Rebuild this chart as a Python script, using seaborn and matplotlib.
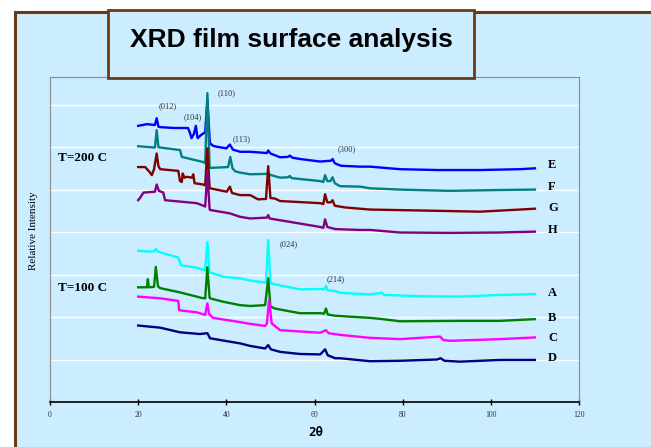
import matplotlib
matplotlib.use("Agg")
import matplotlib.pyplot as plt
from matplotlib.patches import Rectangle
import seaborn as sns
import pandas as pd

# ---------------- data ----------------
E_x = [20.0, 22.0, 23.8, 24.2, 24.6, 25.0, 28.0, 31.3, 31.7, 32.1, 32.6, 33.1, 33.4, 33.5, 34.2, 35.2, 35.7, 36.2, 36.3, 37.0, 37.8, 40.0, 40.8, 41.5, 43.1, 45.4, 49.2, 49.5, 50.0, 52.2, 54.0, 54.4, 55.0, 56.7, 61.3, 63.8, 64.1, 64.6, 66.0, 70.3, 72.6, 79.4, 88.0, 97.5, 102.1, 106.6, 110.0]
E_y = [650, 654, 652, 668, 648, 647, 645, 645, 635, 621, 630, 650, 625, 621, 628, 635, 712, 620, 609, 603, 601, 597, 606, 594, 589, 589, 586, 592, 585, 576, 577, 580, 575, 572, 566, 568, 572, 562, 556, 554, 554, 548, 546, 546, 547, 548, 550]

F_x = [20.0, 23.8, 24.2, 24.6, 25.0, 29.5, 29.9, 34.7, 35.2, 35.7, 36.2, 36.3, 40.4, 40.9, 41.4, 42.0, 43.1, 45.4, 49.2, 49.5, 49.8, 52.2, 54.0, 54.4, 54.8, 61.3, 62.0, 62.4, 62.9, 63.6, 64.1, 64.6, 65.8, 70.3, 72.6, 79.4, 90.7, 102.1, 110.0]
F_y = [602, 599, 640, 600, 599, 593, 577, 565, 562, 727, 555, 551, 553, 577, 550, 543, 540, 536, 537, 541, 535, 528, 529, 532, 527, 520, 518, 534, 520, 520, 529, 515, 508, 507, 503, 500, 497, 499, 500]

G_x = [20.0, 21.6, 22.7, 23.1, 23.6, 24.2, 24.6, 25.0, 29.1, 29.5, 29.9, 30.1, 30.5, 31.0, 32.2, 32.5, 32.8, 34.7, 35.2, 35.7, 36.2, 36.3, 40.1, 40.8, 41.3, 43.1, 45.4, 47.2, 49.0, 49.5, 50.0, 51.0, 52.2, 61.3, 62.0, 62.4, 62.9, 63.7, 64.1, 64.6, 66.9, 70.3, 72.6, 88.0, 97.5, 106.6, 110.0]
G_y = [553, 553, 540, 534, 548, 585, 555, 548, 544, 520, 518, 538, 528, 530, 528, 536, 515, 512, 510, 597, 505, 503, 495, 507, 492, 487, 487, 477, 478, 555, 480, 479, 473, 468, 466, 489, 470, 470, 475, 462, 458, 455, 453, 450, 448, 453, 455]

H_x = [20.0, 20.4, 21.2, 23.8, 24.2, 24.7, 25.7, 26.1, 33.3, 34.8, 35.2, 35.7, 36.2, 36.3, 40.8, 43.1, 45.4, 49.2, 49.5, 49.8, 56.7, 61.3, 62.0, 62.4, 62.9, 64.7, 70.3, 72.6, 79.4, 90.7, 102.1, 110.0]
H_y = [475, 480, 493, 495, 512, 497, 493, 475, 468, 462, 460, 540, 455, 452, 444, 436, 432, 434, 440, 432, 420, 412, 410, 430, 412, 407, 405, 405, 399, 398, 399, 401]

A_x = [20.0, 22.7, 23.6, 24.0, 24.5, 25.7, 29.1, 29.7, 33.3, 34.8, 35.2, 35.7, 36.2, 36.3, 39.3, 43.1, 45.4, 48.8, 49.0, 49.5, 50.0, 51.0, 56.7, 61.3, 62.2, 62.6, 63.0, 64.7, 65.8, 72.6, 75.3, 75.8, 83.9, 93.0, 102.1, 110.0]
A_y = [356, 354, 355, 360, 354, 350, 340, 322, 316, 311, 310, 376, 306, 305, 295, 291, 286, 281, 281, 381, 280, 277, 265, 266, 265, 273, 263, 261, 257, 253, 257, 252, 249, 248, 252, 254]

B_x = [20.0, 22.0, 22.2, 22.4, 23.6, 24.0, 24.5, 25.0, 29.5, 34.4, 35.2, 35.7, 36.2, 36.3, 39.3, 43.1, 45.4, 48.8, 49.5, 50.0, 51.0, 56.7, 61.3, 62.2, 62.6, 63.0, 64.7, 72.6, 75.5, 79.4, 93.0, 102.1, 110.0]
B_y = [270, 270, 289, 270, 271, 318, 272, 268, 258, 245, 244, 317, 246, 244, 236, 228, 226, 228, 291, 225, 220, 209, 209, 208, 220, 206, 203, 198, 195, 190, 191, 191, 195]

C_x = [20.0, 25.0, 29.1, 29.3, 33.3, 35.2, 35.7, 36.1, 37.0, 43.1, 45.4, 48.8, 49.2, 49.7, 50.3, 52.2, 61.3, 62.6, 63.2, 65.8, 72.6, 79.4, 88.5, 89.2, 90.7, 102.1, 110.0]
C_y = [248, 244, 238, 216, 211, 205, 232, 207, 198, 188, 184, 179, 185, 240, 185, 169, 163, 169, 162, 158, 151, 148, 154, 146, 144, 148, 152]

D_x = [20.0, 25.0, 29.5, 34.0, 35.7, 36.3, 40.8, 43.1, 45.4, 48.8, 49.5, 50.1, 52.2, 56.7, 61.3, 62.4, 63.0, 64.7, 65.8, 72.6, 79.4, 87.8, 88.6, 89.5, 93.0, 102.1, 110.0]
D_y = [180, 175, 164, 160, 162, 150, 142, 138, 132, 126, 134, 124, 118, 113, 112, 124, 110, 103, 103, 96, 97, 100, 103, 97, 95, 99, 99]

series_names = ["E", "F", "G", "H", "A", "B", "C", "D"]
series_colors = ["#0000FF", "#008080", "#800000", "#800080",
                 "#00FFFF", "#008000", "#FF00FF", "#000080"]
label_y = [558, 506, 456, 405, 256, 198, 151, 104]

group_labels = ["T=200 C", "T=100 C"]
group_label_y = [574, 268]

peak_labels = ["(012)", "(104)", "(110)", "(113)", "(300)", "(024)", "(214)"]
peak_x = [26.7, 32.4, 40.1, 43.5, 67.4, 54.1, 64.8]
peak_y = [696, 671, 726, 619, 594, 371, 288]

x_ticks = [0, 20, 40, 60, 80, 100, 120]

# ---------------- build table ----------------
xs = [E_x, F_x, G_x, H_x, A_x, B_x, C_x, D_x]
ys = [E_y, F_y, G_y, H_y, A_y, B_y, C_y, D_y]
rows = []
for name, sx, sy in zip(series_names, xs, ys):
    for a, b in zip(sx, sy):
        rows.append((name, a, b))
df = pd.DataFrame(rows, columns=["sample", "two_theta", "intensity"])

# ---------------- figure ----------------
W, H = 651, 447
BG = "#CCECFF"
BROWN = "#6B3A12"
fig = plt.figure(figsize=(W / 100, H / 100), dpi=100)
fig.patch.set_facecolor("white")

# slide background with brown frame
fig.patches.append(Rectangle((15 / W, 1 - 700 / H), 800 / W, 688 / H,
                             transform=fig.transFigure, facecolor=BG,
                             edgecolor=BROWN, lw=2.2, zorder=-5))

ax = fig.add_axes([50 / W, 1 - 402 / H, 529 / W, 325 / H])
ax.set_zorder(2)
ax.set_facecolor(BG)

sns.lineplot(data=df, x="two_theta", y="intensity", hue="sample",
             palette=dict(zip(series_names, series_colors)),
             hue_order=series_names, estimator=None, sort=False,
             legend=False, lw=1.7, ax=ax)

ax.set_xlim(0, 120)
ax.set_ylim(0, 765)
ax.set_xticks(x_ticks)
ax.set_xticklabels([str(t) for t in x_ticks], fontfamily="Liberation Serif",
                   fontsize=5.5, color="#333333")
ax.set_yticks([100, 200, 300, 400, 500, 600, 700])
ax.set_yticklabels([])
ax.tick_params(axis="y", length=0)
ax.tick_params(axis="x", direction="inout", length=5, width=1, pad=4)
ax.grid(axis="y", color="white", lw=1)
ax.grid(axis="x", visible=False)
ax.set_axisbelow(True)
for s in ["left", "right", "top"]:
    ax.spines[s].set_color("#8C8C8C")
    ax.spines[s].set_linewidth(0.8)
ax.spines["bottom"].set_color("black")
ax.spines["bottom"].set_linewidth(1.2)
ax.set_xlabel("")
ax.set_ylabel("")

for name, ly in zip(series_names, label_y):
    ax.text(113, ly, name, fontfamily="Liberation Serif", fontweight="bold",
            fontsize=9, va="center", ha="left")
for t, ty in zip(group_labels, group_label_y):
    ax.text(1.8, ty, t, fontfamily="Liberation Serif", fontweight="bold",
            fontsize=9.5, va="center", ha="left")
for t, px, py in zip(peak_labels, peak_x, peak_y):
    ax.text(px, py, t, fontfamily="Liberation Serif", fontsize=6,
            color="#333333", va="center", ha="center")

fig.text(316 / W, 1 - 433 / H, "2θ", fontfamily="DejaVu Sans Mono",
         fontweight="bold", fontsize=9, ha="center", va="center")
fig.text(33 / W, 1 - 231 / H, "Relative Intensity", rotation=90,
         fontfamily="Liberation Serif", fontsize=8, ha="center", va="center")

# title box
fig.patches.append(Rectangle((108 / W, 1 - 78 / H), 366 / W, 68 / H,
                             transform=fig.transFigure, facecolor=BG,
                             edgecolor=BROWN, lw=2, zorder=5))
fig.text(291 / W, 1 - 40 / H, "XRD film surface analysis",
         fontfamily="Liberation Sans", fontweight="bold", fontsize=19,
         ha="center", va="center", zorder=6)

fig.savefig("out.png", dpi=100, facecolor=fig.get_facecolor())
